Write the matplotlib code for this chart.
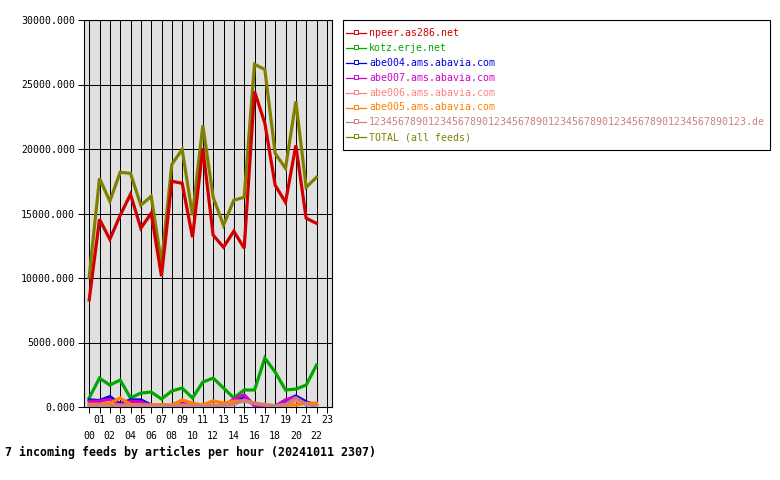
import matplotlib
matplotlib.use("Agg")
import matplotlib.pyplot as plt
from matplotlib.lines import Line2D
from matplotlib.patches import Rectangle
from matplotlib.ticker import FixedLocator

hours = list(range(23))
hour_labels = ["%02d" % h for h in range(24)]

feed_names = [
    "npeer.as286.net",
    "kotz.erje.net",
    "abe004.ams.abavia.com",
    "abe007.ams.abavia.com",
    "abe006.ams.abavia.com",
    "abe005.ams.abavia.com",
    "123456789012345678901234567890123456789012345678901234567890123.de",
    "TOTAL (all feeds)",
]
feed_colors = ["#d00000", "#00a800", "#0000e0", "#d000d0", "#ff8080", "#ff8000", "#c88080", "#808000"]

npeer = [8300, 14550, 13000, 14860, 16490, 13860, 15020, 10140, 17500, 17340, 13160, 20050,
         13320, 12390, 13630, 12310, 24460, 22000, 17190, 15870, 20280, 14630, 14240]
kotz = [700, 2240, 1700, 2090, 700, 1080, 1160, 620, 1240, 1470, 700, 1930,
        2240, 1470, 700, 1320, 1320, 3790, 2710, 1320, 1390, 1700, 3250]
abe004 = [550, 500, 800, 250, 550, 550, 150, 100, 100, 150, 100, 100,
          100, 100, 400, 700, 150, 100, 50, 500, 850, 400, 150]
abe007 = [450, 450, 600, 150, 450, 400, 100, 50, 50, 400, 250, 100,
          50, 100, 600, 950, 100, 100, 50, 550, 750, 250, 100]
abe006 = [150, 150, 150, 150, 150, 150, 150, 150, 150, 150, 150, 150,
          150, 150, 300, 450, 300, 200, 100, 150, 500, 200, 150]
abe005 = [200, 200, 300, 700, 200, 150, 150, 200, 150, 550, 300, 150,
          480, 300, 450, 500, 300, 150, 100, 150, 150, 300, 300]
de123 = [100, 100, 100, 100, 100, 100, 100, 100, 100, 100, 100, 100,
         100, 100, 200, 550, 250, 150, 100, 200, 700, 200, 100]
total = [10060, 17730, 15950, 18190, 18110, 15640, 16330, 11150, 18810, 19970, 14860, 21830,
         16260, 14090, 16030, 16260, 26560, 26170, 19660, 18500, 23690, 17030, 17810]
series = [npeer, kotz, abe004, abe007, abe006, abe005, de123, total]

y_ticks = [0, 5000, 10000, 15000, 20000, 25000, 30000]
title = "7 incoming feeds by articles per hour (20241011 2307)"

W, H = 780, 480
fig = plt.figure(figsize=(W / 100, H / 100), dpi=100)
fig.patch.set_facecolor("white")
mono = "DejaVu Sans Mono"
fs = 7.15

def fx(px):
    return px / W

def fy(py):
    return 1 - py / H

ax = fig.add_axes([fx(84), fy(407), fx(332) - fx(84), fy(20) - fy(407)])
ax.set_facecolor("#e0e0e0")
ax.set_xlim(-0.5, 23.5)
ax.set_ylim(0, 30000)

for h in range(24):
    ax.axvline(h, color="black", lw=0.72, zorder=1)
for v in y_ticks:
    ax.axhline(v, color="black", lw=0.72, zorder=1)

order = [7, 0, 1, 2, 3, 4, 5, 6]
for k, i in enumerate(order):
    ax.plot(hours, series[i], color=feed_colors[i], lw=2.3, zorder=3 + k,
            solid_joinstyle="miter")

for s in ax.spines.values():
    s.set_color("black")
    s.set_linewidth(0.8)

ax.set_yticks(y_ticks)
ax.set_yticklabels(["%.3f" % v for v in y_ticks], fontfamily=mono, fontsize=fs)
ax.tick_params(axis="y", length=4, width=0.72, pad=2.5)

odd = [h for h in range(24) if h % 2 == 1]
even = [h for h in range(24) if h % 2 == 0]
ax.xaxis.set_major_locator(FixedLocator(odd))
ax.set_xticklabels([hour_labels[h] for h in odd], fontfamily=mono, fontsize=fs)
ax.xaxis.set_minor_locator(FixedLocator(even))
ax.set_xticks(even, [hour_labels[h] for h in even], minor=True)
for lab in ax.get_xticklabels(minor=True):
    lab.set_fontfamily(mono)
    lab.set_fontsize(fs)
ax.tick_params(axis="x", which="major", length=4, width=0.72, pad=2)
ax.tick_params(axis="x", which="minor", length=4, width=0.72, pad=13)

fig.text(fx(5), fy(452), title, fontfamily=mono, fontweight="bold", fontsize=8.4,
         ha="left", va="center")

# legend box
fig.add_artist(Rectangle((fx(343), fy(150)), fx(770) - fx(343), fy(20) - fy(150),
                         transform=fig.transFigure, facecolor="white",
                         edgecolor="black", lw=0.8))
for i, name in enumerate(feed_names):
    yc = 33 + i * 14.9
    fig.add_artist(Line2D([fx(346), fx(366)], [fy(yc), fy(yc)], transform=fig.transFigure,
                          color=feed_colors[i], lw=0.9))
    fig.add_artist(Line2D([fx(356)], [fy(yc - 1)], transform=fig.transFigure,
                          color=feed_colors[i], marker="s", markersize=2.3,
                          markerfacecolor="white", markeredgewidth=0.7))
    fig.text(fx(369), fy(yc), name, color=feed_colors[i], fontfamily=mono,
             fontsize=fs, ha="left", va="center")

fig.savefig("out.png", dpi=100)
